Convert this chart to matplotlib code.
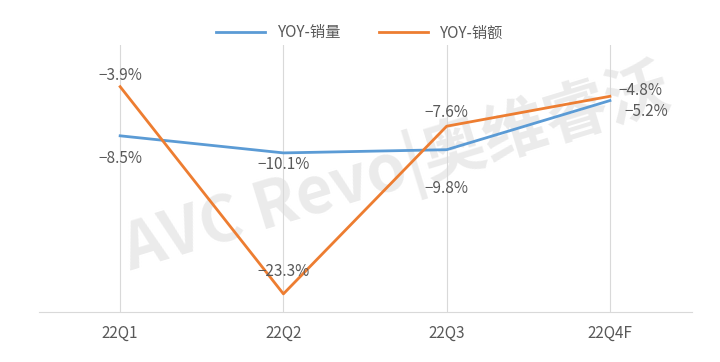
import matplotlib.pyplot as plt

plt.rcParams['font.family'] = ['Noto Sans CJK SC', 'DejaVu Sans']

quarters = ["22Q1", "22Q2", "22Q3", "22Q4F"]
yoy_volume = [-8.5, -10.1, -9.8, -5.2]
yoy_value = [-3.9, -23.3, -7.6, -4.8]

BLUE = "#5B9BD5"
ORANGE = "#ED7D31"
TEXT = "#595959"
GRID = "#D9D9D9"

fig = plt.figure(figsize=(7.2, 3.62), dpi=100)
ax = fig.add_axes([0.0535, 0.138, 0.907, 0.7376])
ax.patch.set_alpha(0)

x = range(len(quarters))
ax.plot(x, yoy_volume, color=BLUE, lw=2.0, label="YOY-销量", zorder=3)
ax.plot(x, yoy_value, color=ORANGE, lw=2.0, label="YOY-销额", zorder=3)

ax.set_xlim(-0.5, 3.5)
ax.set_ylim(-25, 0)
ax.set_xticks(list(x))
ax.set_xticklabels(quarters, color=TEXT, fontsize=11)
ax.tick_params(axis="x", length=0, pad=9)
ax.set_yticks([])
for s in ["top", "right", "left"]:
    ax.spines[s].set_visible(False)
ax.spines["bottom"].set_color(GRID)
ax.grid(axis="x", color=GRID, lw=0.8)

# data labels: (dx, dy) offsets in points
vol_off = [(0, -16), (0, -8), (0, -28), (26, -8)]
val_off = [(0, 8), (0, 16), (0, 10), (22, 4)]
for i, (v, off) in enumerate(zip(yoy_volume, vol_off)):
    ax.annotate(f"{v:.1f}%".replace("-", "−"), (i, v), xytext=off,
                textcoords="offset points", ha="center", va="center",
                color=TEXT, fontsize=11)
for i, (v, off) in enumerate(zip(yoy_value, val_off)):
    ax.annotate(f"{v:.1f}%".replace("-", "−"), (i, v), xytext=off,
                textcoords="offset points", ha="center", va="center",
                color=TEXT, fontsize=11)

# watermark, behind the (transparent) axes
fig.text(0.55, 0.53, "AVC Revo|奥维睿沃", fontsize=46, fontweight="bold",
         style="italic", color="#EBEBEB", rotation=17, ha="center", va="center",
         zorder=-1)

fig.legend(loc="center", bbox_to_anchor=(0.5, 0.909), ncol=2, frameon=False,
           fontsize=11, labelcolor=TEXT, handlelength=3.2, columnspacing=2.5)

fig.savefig("out.png", dpi=100)
